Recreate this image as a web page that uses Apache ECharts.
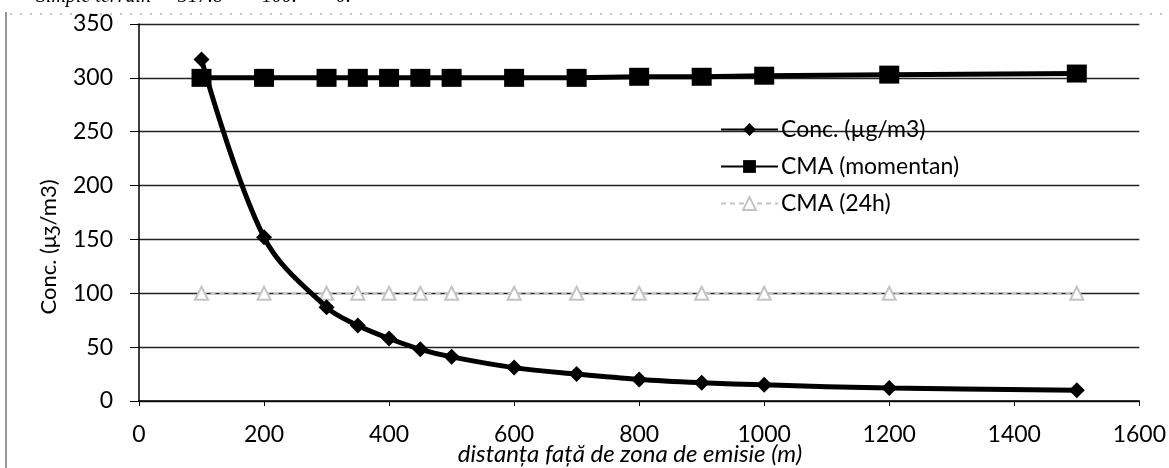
<!DOCTYPE html>
<html><head><meta charset="utf-8">
<script src="https://cdn.jsdelivr.net/npm/echarts@6/dist/echarts.min.js"></script>
<style>html,body{margin:0;padding:0;background:#fff}#c{width:1169px;height:468px}</style>
</head><body><div id="c"></div>
<script>
const distances = [100, 200, 300, 350, 400, 450, 500, 600, 700, 800, 900, 1000, 1200, 1500];
const concValues = [317, 152, 87, 70, 58, 48, 41, 31, 25, 20, 17, 15, 12, 10];
const cmaMomentan = [300, 300, 300, 300, 300, 300, 300, 300, 300, 301, 301, 302, 303, 304];
const cma24h = [100, 100, 100, 100, 100, 100, 100, 100, 100, 100, 100, 100, 100, 100];
const seriesNames = ['Conc. (µg/m3)', 'CMA (momentan)', 'CMA (24h)'];
const xAxisTitle = 'distanța față de zona de emisie (m)';
const yAxisTitle = 'Conc. (μȝ/m3)';
const topTexts = ['Simple terrain', '317.8', '100.', '0.'];

const pairs = (ys) => distances.map((x, i) => [x, ys[i]]);
const font = 'Lato, "Open Sans", sans-serif';
const serif = 'italic 20px "Liberation Serif", serif';
const chart = echarts.init(document.getElementById('c'), null, {renderer: 'canvas'});
chart.setOption({
  animation: false,
  backgroundColor: '#fff',
  grid: {left: 139, right: 24, top: 24, bottom: 67},
  graphic: [
    {type: 'text', x: 36, y: -13, style: {text: topTexts[0], font: serif, fill: '#000'}},
    {type: 'text', x: 178, y: -13, style: {text: topTexts[1], font: serif, fill: '#000'}},
    {type: 'text', x: 262, y: -13, style: {text: topTexts[2], font: serif, fill: '#000'}},
    {type: 'text', x: 336, y: -13, style: {text: topTexts[3], font: serif, fill: '#000'}},
    {type: 'line', shape: {x1: 6, y1: 12, x2: 6, y2: 468}, style: {stroke: '#333', lineWidth: 1}},
    {type: 'line', shape: {x1: 10, y1: 14, x2: 1169, y2: 14}, style: {stroke: '#888', lineWidth: 1, lineDash: [2, 8]}},
    {type: 'text', x: 49, y: 247, rotation: Math.PI / 2, style: {text: yAxisTitle, font: '22px Lato, "Open Sans", sans-serif', fill: '#000', align: 'center', verticalAlign: 'middle'}},
    {type: 'text', x: 630, y: 454, style: {text: xAxisTitle, font: 'italic 24px Lato, "Open Sans", sans-serif', fill: '#000', align: 'center', verticalAlign: 'middle'}}
  ],
  legend: {
    orient: 'vertical', left: 715, top: 113, itemWidth: 57, itemHeight: 16, itemGap: 14,
    textStyle: {fontFamily: font, fontSize: 23, color: '#000', padding: [0, 0, 0, -2]},
    data: seriesNames
  },
  xAxis: {
    type: 'value', min: 0, max: 1600, interval: 200,
    axisLine: {show: true, lineStyle: {color: '#000', width: 1.5}},
    axisTick: {show: true, inside: false, length: 5, lineStyle: {color: '#000'}},
    axisLabel: {fontFamily: font, fontSize: 23, color: '#000', margin: 22, formatter: (v) => String(v)},
    splitLine: {show: false}
  },
  yAxis: {
    type: 'value', min: 0, max: 350, interval: 50,
    axisLine: {show: true, lineStyle: {color: '#000', width: 1.5}},
    axisTick: {show: true, length: 9, lineStyle: {color: '#000'}},
    axisLabel: {fontFamily: font, fontSize: 23, color: '#000', margin: 26},
    splitLine: {show: true, lineStyle: {color: '#222', width: 1.3}}
  },
  series: [
    {
      name: seriesNames[0], type: 'line', data: pairs(concValues), smooth: 0.35,
      symbol: 'diamond', symbolSize: 16,
      lineStyle: {color: '#000', width: 5}, itemStyle: {color: '#000'}, z: 4
    },
    {
      name: seriesNames[1], type: 'line', data: pairs(cmaMomentan),
      symbol: 'rect', symbolSize: [20, 18],
      lineStyle: {color: '#000', width: 5}, itemStyle: {color: '#000'}, z: 3
    },
    {
      name: seriesNames[2], type: 'line', data: pairs(cma24h),
      symbol: 'emptyTriangle', symbolSize: 13,
      lineStyle: {color: '#c4c4c4', width: 1.5, type: [5, 4]}, itemStyle: {color: '#c4c4c4', borderColor: '#b8b8b8', borderWidth: 1}, z: 2
    }
  ]
});
</script></body></html>
